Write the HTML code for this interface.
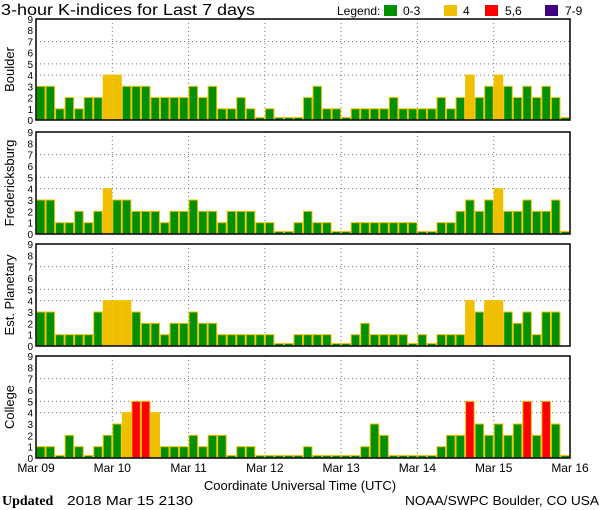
<!DOCTYPE html>
<html><head><meta charset="utf-8"><style>
html,body{margin:0;padding:0;background:#fff}
svg{display:block}
text{font-family:"Liberation Sans",sans-serif;fill:#000}
</style></head><body>
<svg id="c" width="600" height="510" viewBox="0 0 600 510" xmlns="http://www.w3.org/2000/svg">
<text x="1" y="15" font-size="16" textLength="254" lengthAdjust="spacingAndGlyphs">3-hour K-indices for Last 7 days</text>
<g>
<text x="337" y="15" font-size="12">Legend:</text>
<rect x="384" y="5" width="13" height="11" fill="#009000"/>
<text x="403" y="15" font-size="12">0-3</text>
<rect x="444" y="5" width="13" height="11" fill="#f0c000"/>
<text x="463" y="15" font-size="12">4</text>
<rect x="485" y="5" width="13" height="11" fill="#ff0000"/>
<text x="505" y="15" font-size="12">5,6</text>
<rect x="545" y="5" width="13" height="11" fill="#400080"/>
<text x="565" y="15" font-size="12">7-9</text>
</g>
<text x="300" y="490" font-size="13" text-anchor="middle">Coordinate Universal Time (UTC)</text>
<text x="2" y="505" font-size="14" font-weight="bold" style="font-family:'Liberation Serif',serif">Updated</text>
<text x="67" y="505" font-size="13" textLength="126" lengthAdjust="spacingAndGlyphs">2018 Mar 15 2130</text>
<text x="405" y="505" font-size="13" textLength="194" lengthAdjust="spacingAndGlyphs">NOAA/SWPC Boulder, CO USA</text>
</svg>
<script>
const stations = ["Boulder","Fredericksburg","Est. Planetary","College"];
const days = ["Mar 09","Mar 10","Mar 11","Mar 12","Mar 13","Mar 14","Mar 15","Mar 16"];
const yTicks = [0,1,2,3,4,5,6,7,8,9];
const boulder = [3,3,1,2,1,2,2,4, 4,3,3,3,2,2,2,2, 3,2,3,1,1,2,1,0, 1,0,0,0,2,3,1,1, 0,1,1,1,1,2,1,1, 1,1,2,1,2,4,2,3, 4,3,2,3,2,3,2,0];
const fredericksburg = [3,3,1,1,2,1,2,4, 3,3,2,2,2,1,2,2, 3,2,2,1,2,2,2,1, 1,0,0,1,2,1,1,0, 0,1,1,1,1,1,1,1, 0,0,1,1,2,3,2,3, 4,2,2,3,2,2,3,0];
const planetary = [3,3,1,1,1,1,3,4, 4,4,3,2,2,1,2,2, 3,2,2,1,1,1,1,1, 1,0,0,1,1,1,1,0, 0,1,2,1,1,1,1,0, 1,0,1,1,1,4,3,4, 4,3,2,3,1,3,3,null];
const college = [1,1,0,2,1,0,1,2, 3,4,5,5,4,1,1,1, 2,1,2,2,0,1,1,0, 0,0,0,0,1,0,0,0, 0,0,1,3,2,0,0,0, 0,0,1,2,2,5,3,2, 3,2,3,5,2,5,3,0];
const series = [boulder,fredericksburg,planetary,college];

const svg = document.getElementById('c');
const NS = "http://www.w3.org/2000/svg";
const tops = [19,132,244,356], bottoms = [120,234,346,458];
const X0 = 36, X1 = 570;
function mk(tag, attrs){const e=document.createElementNS(NS,tag);for(const k in attrs)e.setAttribute(k,attrs[k]);svg.appendChild(e);return e;}
function color(v){return v<=3?"#009000":v==4?"#f0c000":v<=6?"#ff0000":"#400080";}

series.forEach((vals,p)=>{
  const top=tops[p], bot=bottoms[p], n=vals.length;
  const bw=(X1-X0)/n;
  const xs=i=>X0+i*bw;
  const ys=v=>bot-v*(bot-top)/9;
  const slug=stations[p].toLowerCase().replace(/[^a-z]+/g,'-');
  [4,5,7].forEach(v=>{
    const l=mk('line',{x1:X0,x2:X1,y1:ys(v),y2:ys(v),stroke:'#777','stroke-dasharray':'1 3','stroke-width':1});
    
    
  });
  for(let d=1;d<7;d++){
    const l=mk('line',{x1:xs(d*8),x2:xs(d*8),y1:top,y2:bot,stroke:'#777','stroke-dasharray':'1 3','stroke-width':1});
    
    
  }
  vals.forEach((v,i)=>{
    if(v===null) return;
    const h=Math.max(v*(bot-top)/9,2.5);
    const r=mk('rect',{x:xs(i)+0.5,y:bot-h,width:bw-1,height:h,fill:color(v),stroke:'#f0c000','stroke-width':1});
    
    
  });
  const f=mk('rect',{x:X0,y:top,width:X1-X0,height:bot-top,fill:'none',stroke:'#000','stroke-width':1.5});
  
  
  yTicks.forEach(v=>{
    const t=mk('text',{x:33,y:ys(v)+4,'font-size':10,'text-anchor':'end'});
    t.textContent=v;
    
    
  });
  const cy=(top+bot)/2;
  const lab=mk('text',{x:14,y:cy,'font-size':13,'text-anchor':'middle',transform:'rotate(-90 14 '+cy+')'});
  lab.textContent=stations[p];
  
  
});
days.forEach((d,i)=>{
  const x=X0+i*(X1-X0)/7;
  const t=mk('text',{x:x,y:472,'font-size':12,'text-anchor':'middle'});
  t.textContent=d;
  
  
});
</script>
</body></html>
